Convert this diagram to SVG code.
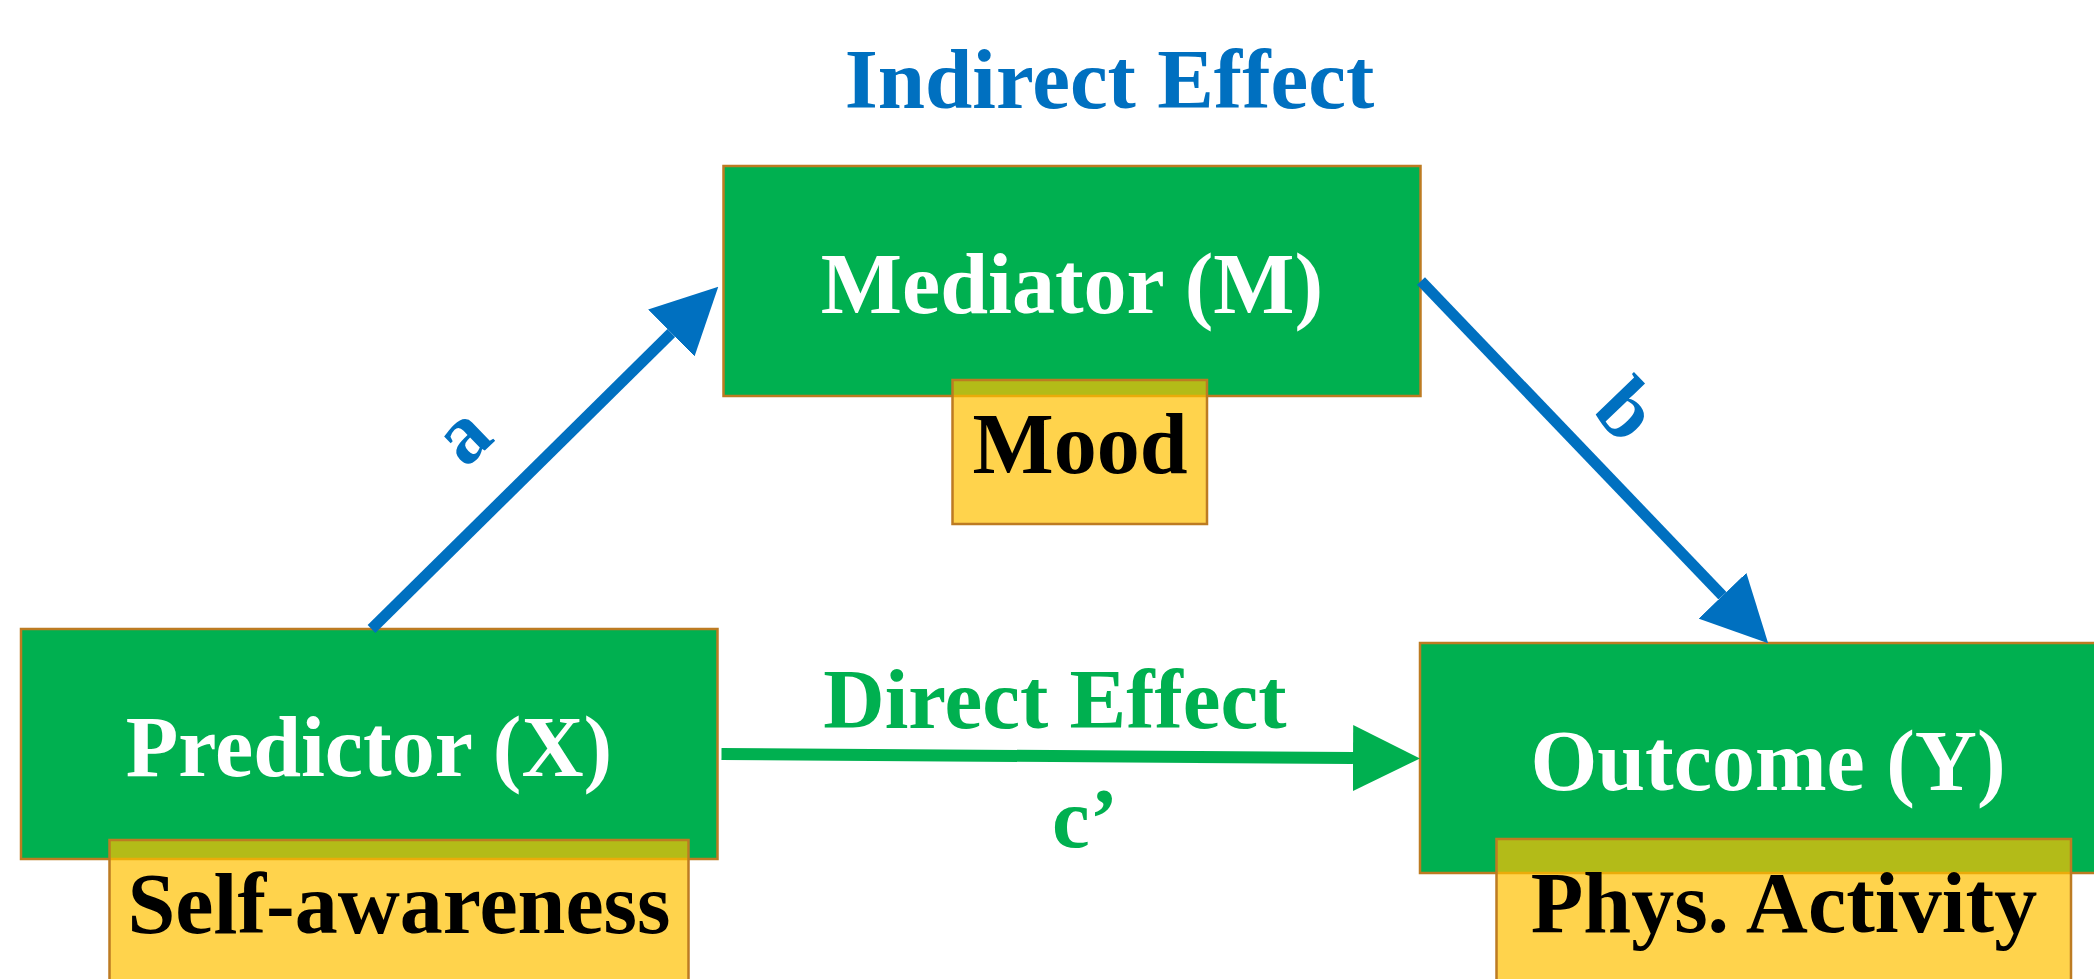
<svg xmlns="http://www.w3.org/2000/svg" width="2094" height="979" viewBox="0 0 2094 979">
  <style>
    .txt { font-family: "Liberation Serif", "Times New Roman", serif; font-weight: bold; text-anchor: middle; }
    .var { fill: #00B050; stroke: #BD7B22; stroke-width: 2.5; }
    .tag { fill: #FFC000; fill-opacity: 0.7; stroke: #BD7B22; stroke-width: 2.5; }
    .white { fill: #FFFFFF; font-size: 86px; }
    .black { fill: #000000; font-size: 86px; }
    .blue { fill: #0070C0; }
    .green { fill: #00B050; }
    .path-blue { stroke: #0070C0; stroke-width: 11; fill: none; stroke-linecap: butt; }
    .path-green { stroke: #00B050; stroke-width: 12; fill: none; stroke-linecap: butt; }
  </style>
  <defs>
    <marker id="head-blue" markerUnits="userSpaceOnUse" markerWidth="66" markerHeight="66" refX="0" refY="33" orient="auto" viewBox="0 0 66 66">
      <path d="M0,0 L66,33 L0,66 Z" fill="#0070C0"/>
    </marker>
    <marker id="head-green" markerUnits="userSpaceOnUse" markerWidth="67" markerHeight="66" refX="0" refY="33" orient="auto" viewBox="0 0 67 66">
      <path d="M0,0 L67,33 L0,66 Z" fill="#00B050"/>
    </marker>
  </defs>

  <rect width="2094" height="979" fill="#FFFFFF"/>

  <text class="txt blue" x="1109.5" y="108" font-size="85">Indirect Effect</text>

  <g id="mediator">
    <rect class="var" x="723.5" y="166" width="697" height="230"/>
    <text class="txt white" x="1072" y="313">Mediator (M)</text>
  </g>
  <g id="mood">
    <rect class="tag" x="952.5" y="380" width="254.5" height="144"/>
    <text class="txt black" x="1080" y="472.5">Mood</text>
  </g>

  <g id="predictor">
    <rect class="var" x="21" y="629" width="696.5" height="230"/>
    <text class="txt white" x="369" y="776" font-size="85">Predictor (X)</text>
  </g>
  <g id="self-awareness">
    <rect class="tag" x="109.5" y="840" width="579" height="200"/>
    <text class="txt black" x="399" y="933" font-size="85">Self-awareness</text>
  </g>

  <g id="outcome">
    <rect class="var" x="1420" y="643" width="696" height="230"/>
    <text class="txt white" x="1768" y="790" font-size="85">Outcome (Y)</text>
  </g>
  <g id="phys-activity">
    <rect class="tag" x="1496.5" y="839" width="574.5" height="200"/>
    <text class="txt black" x="1784" y="932" font-size="85">Phys. Activity</text>
  </g>

  <g id="connectors">
    <line class="path-blue" x1="371.5" y1="629" x2="671.3" y2="333" marker-end="url(#head-blue)"/>
    <line class="path-blue" x1="1421" y1="281" x2="1722.5" y2="595.7" marker-end="url(#head-blue)"/>
    <line class="path-green" x1="721.5" y1="754" x2="1353" y2="758" marker-end="url(#head-green)"/>
    <text class="txt blue" font-size="85" transform="translate(467,440) rotate(-44)" y="20">a</text>
    <text class="txt blue" font-size="85" transform="translate(1628,409) rotate(46)" y="29">b</text>
    <text class="txt green" font-size="85" x="1055" y="728">Direct Effect</text>
    <text class="txt green" font-size="85" x="1085" y="847">c’</text>
  </g>
</svg>
